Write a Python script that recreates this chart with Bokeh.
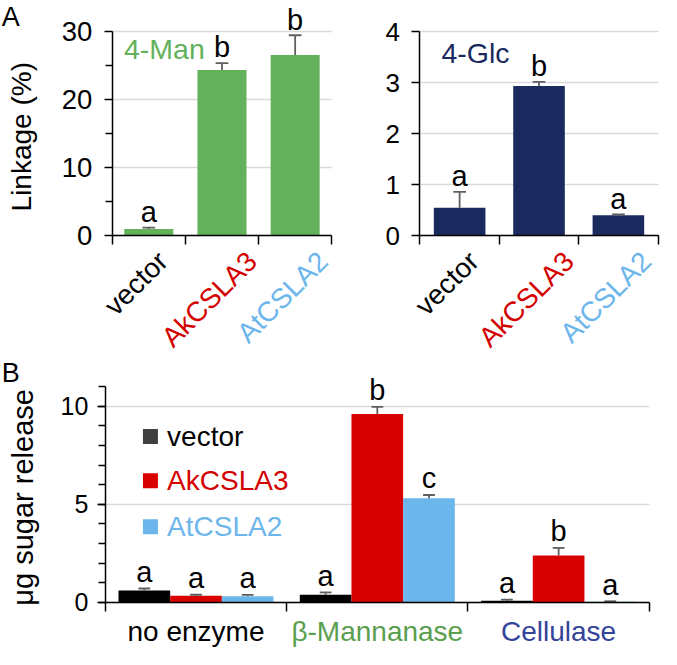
import math
from bokeh.plotting import figure
from bokeh.models import Range1d, FixedTicker, Label, Grid
from bokeh.layouts import column, row
from bokeh.embed import file_html
from bokeh.resources import INLINE

# ---------------- data ----------------
genotypes = ["vector", "AkCSLA3", "AtCSLA2"]
genotype_colors = ["#000000", "#d40000", "#6cb6ec"]

man_mean = [1.0, 24.4, 26.6]
man_err = [0.2, 1.0, 2.9]
man_letters = ["a", "b", "b"]

glc_mean = [0.55, 2.94, 0.40]
glc_err = [0.31, 0.08, 0.02]
glc_letters = ["a", "b", "a"]

enzymes = ["no enzyme", "\u03b2-Mannanase", "Cellulase"]
enzyme_colors = ["#000000", "#5a9e4f", "#34449a"]

vec_B = [0.60, 0.38, 0.08]
vec_B_err = [0.10, 0.12, 0.05]
vec_B_letters = ["a", "a", "a"]
ak_B = [0.33, 9.60, 2.38]
ak_B_err = [0.05, 0.37, 0.39]
ak_B_letters = ["a", "b", "b"]
at_B = [0.30, 5.30, 0.03]
at_B_err = [0.07, 0.17, 0.02]
at_B_letters = ["a", "c", "a"]

FONT = "Liberation Sans"
GREEN = "#63b15a"
NAVY = "#1b2a5e"
ERR = "#5f5f5f"
GRID = "#d9d9d9"

S = 0.98     # layout px per reference px
OFF = 2.0    # reference px at layout origin
HAS_CROSS = "cross_bounds" in Grid.properties()

# approximate advance widths (em) of Liberation Sans, used to centre rotated labels
CHAR_W = {"v": .5, "e": .556, "c": .5, "t": .278, "o": .556, "r": .333, "A": .667,
          "k": .5, "C": .722, "S": .667, "L": .556, "3": .556, "2": .556}


class Panel:
    def __init__(self, ox, oy, w, h, x0ref, pxu, y0ref, pyu):
        self.x0ref, self.pxu, self.y0ref, self.pyu = x0ref, pxu, y0ref, pyu
        rl, rr = ox / S + OFF, (ox + w) / S + OFF
        rt, rb = oy / S + OFF, (oy + h) / S + OFF
        self.p = figure(width=w, height=h,
                        x_range=Range1d(self.X(rl), self.X(rr)),
                        y_range=Range1d(self.Y(rb), self.Y(rt)),
                        output_backend="svg", toolbar_location=None, title=None,
                        min_border=0, min_border_left=0, min_border_right=0,
                        min_border_top=0, min_border_bottom=0)

    def X(self, rx):
        return (rx - self.x0ref) / self.pxu

    def Y(self, ry):
        return (self.y0ref - ry) / self.pyu


def style(pan, y_top, major, minor, tick_size, standoff):
    p = pan.p
    p.outline_line_color = None
    p.background_fill_color = "white"
    p.border_fill_color = "white"
    p.xgrid.visible = False
    xa = p.xaxis[0]
    xa.fixed_location = 0
    xa.bounds = (0, 3)
    xa.ticker = FixedTicker(ticks=[0, 1, 2, 3])
    xa.major_label_overrides = {0: "", 1: "", 2: "", 3: ""}
    xa.major_tick_in = 0
    xa.major_tick_out = 9
    xa.minor_tick_line_color = None
    xa.axis_line_width = 1.5
    xa.major_tick_line_width = 1.5
    ya = p.yaxis[0]
    ya.fixed_location = 0
    ya.ticker = FixedTicker(ticks=major, minor_ticks=minor)
    ya.bounds = (0, y_top)
    ya.major_tick_in = 0
    ya.major_tick_out = 8
    ya.minor_tick_in = 0
    ya.minor_tick_out = 7
    ya.axis_line_width = 1.5
    ya.major_tick_line_width = 1.5
    ya.minor_tick_line_width = 1.5
    ya.major_label_text_font = FONT
    ya.major_label_text_font_size = f"{tick_size}px"
    ya.major_label_text_color = "black"
    ya.major_label_standoff = standoff
    yg = p.ygrid[0]
    if HAS_CROSS:
        yg.grid_line_color = GRID
        yg.grid_line_width = 1.5
        yg.cross_bounds = (0, 3)
    else:
        yg.visible = False
        gl = [t for t in major if t > 0]
        p.segment(x0=[0] * len(gl), y0=gl, x1=[3] * len(gl), y1=gl,
                  line_color=GRID, line_width=1.5, level="underlay")


def lab(p, x, y, text, size, color="black", align="center", baseline="middle", angle=0.0):
    p.add_layout(Label(x=x, y=y, text=text, text_font=FONT, text_font_size=f"{size}px",
                       text_color=color, text_align=align, text_baseline=baseline, angle=angle))


def bars_with_err(pan, xs, means, errs, letters, width, colors, cap_px, gap_px):
    p = pan.p
    tops = [m + e for m, e in zip(means, errs)]
    p.vbar(x=xs, top=means, width=width, fill_color=colors, line_color=None)
    half = cap_px / 2 / pan.pxu
    p.segment(x0=xs, y0=means, x1=xs, y1=tops, line_color=ERR, line_width=1.8)
    p.segment(x0=[x - half for x in xs], y0=tops, x1=[x + half for x in xs], y1=tops,
              line_color=ERR, line_width=1.8)
    for x, t, l in zip(xs, tops, letters):
        lab(p, x, t + gap_px / pan.pyu, l, 29)


def rotated_labels(pan, size_ref):
    # centre of each rotated label: fixed horizontal offset, top of text box ~14 px below axis
    for c, g, col in zip(centers, genotypes, genotype_colors):
        L = sum(CHAR_W.get(ch, .556) for ch in g) * size_ref
        half_box = (L + 0.72 * size_ref) * math.sqrt(0.5) / 2
        lab(pan.p, c - 13 / pan.pxu, -(14 + half_box) / pan.pyu, g,
            round(size_ref * S, 1), col, angle=ROT)


centers = [0.5, 1.5, 2.5]
ROT = math.pi / 4
VERT = math.pi / 2
HA = 358          # height of the panel-A row (layout px)
HB = 649 - HA     # height of panel B

# ---------------- panel A left (4-Man) ----------------
A1 = Panel(0, 0, 336, HA, 116, 74.67, 242, 6.933)
style(A1, 30, [0, 10, 20, 30], [5, 15, 25], 27.5, 12)
bars_with_err(A1, centers, man_mean, man_err, man_letters, 0.67, [GREEN] * 3, 13, 16)
lab(A1.p, A1.X(128), A1.Y(51), "4-Man", 28.5, GREEN, align="left")
lab(A1.p, A1.X(12.5), A1.Y(19), "A", 27)
lab(A1.p, A1.X(23), A1.Y(141), "Linkage (%)", 28, angle=VERT)
rotated_labels(A1, 28.5)

# ---------------- panel A right (4-Glc) ----------------
A2 = Panel(336, 0, 325, HA, 430, 81.0, 242, 52.0)
style(A2, 4, [0, 1, 2, 3, 4], [], 26, 12)
bars_with_err(A2, centers, glc_mean, glc_err, glc_letters, 0.65, [NAVY] * 3, 13, 16)
lab(A2.p, A2.X(452), A2.Y(56), "4-Glc", 28.5, NAVY, align="left")
rotated_labels(A2, 28.5)

# ---------------- panel B ----------------
B = Panel(0, HA, 661, HB, 109, 185.0, 616, 20.0)
style(B, 11, [0, 5, 10], list(range(0, 12)), 25, 9)
bw = 0.285
series = [(vec_B, vec_B_err, vec_B_letters, "#000000", -bw),
          (ak_B, ak_B_err, ak_B_letters, "#d90000", 0.0),
          (at_B, at_B_err, at_B_letters, "#6cb6ec", bw)]
for vals, errs, lets, col, off in series:
    xs = [c + off for c in centers]
    bars_with_err(B, xs, vals, errs, lets, bw, [col] * 3, 12, 17)

# legend
leg_colors = ["#404040", "#d90000", "#6cb6ec"]
leg_text_colors = ["#000000", "#d40000", "#6cb6ec"]
leg_rows = [447, 492, 539]
B.p.scatter(x=[B.X(155)] * 3, y=[B.Y(r) for r in leg_rows],
            marker="square", size=15, fill_color=leg_colors, line_color=None)
for r, g, tc in zip(leg_rows, genotypes, leg_text_colors):
    lab(B.p, B.X(172), B.Y(r), g, 28, tc, align="left")

for c, e, col in zip(centers, enzymes, enzyme_colors):
    lab(B.p, c, B.Y(646), e, 28, col)
lab(B.p, B.X(12.5), B.Y(382), "B", 27)
lab(B.p, B.X(25), B.Y(509), "\u03bcg sugar release", 29, angle=VERT)

layout = column(row(A1.p, A2.p, spacing=0), B.p, spacing=0)
open("out.html", "w").write(file_html(layout, INLINE))
